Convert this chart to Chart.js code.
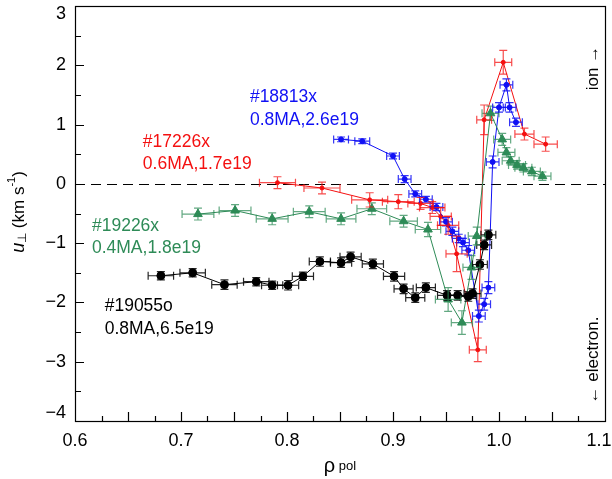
<!DOCTYPE html>
<html lang="en">
<head>
    <meta charset="UTF-8">
    <title>Perpendicular velocity profiles</title>
    <style>
        body { margin: 0; background: #fff; }
        canvas { display: block; }
    </style>
</head>
<body>
    <canvas id="profileChart" width="612" height="479"></canvas>

    <script src="https://cdn.jsdelivr.net/npm/chart.js"></script>
    <script>
        // axis ranges and tick labels
        const rhoTicks = [0.6, 0.7, 0.8, 0.9, 1.0, 1.1];
        const uTicks = [-4, -3, -2, -1, 0, 1, 2, 3];

        // #19055o  0.8MA, 6.5e19
        const rho19055 = [0.681, 0.711, 0.741, 0.771, 0.786, 0.801, 0.815, 0.831, 0.851, 0.860, 0.881,
                          0.901, 0.910, 0.921, 0.931, 0.951, 0.961, 0.971, 0.975, 0.982, 0.986, 0.990];
        const u19055 = [-1.55, -1.50, -1.70, -1.65, -1.71, -1.71, -1.56, -1.31, -1.33, -1.23, -1.35,
                        -1.56, -1.77, -1.92, -1.75, -1.88, -1.88, -1.90, -1.85, -1.36, -1.03, -0.86];
        const rhoErr19055 = [0.012, 0.012, 0.012, 0.012, 0.010, 0.010, 0.010, 0.010, 0.010, 0.010, 0.010,
                             0.010, 0.009, 0.009, 0.009, 0.009, 0.008, 0.008, 0.008, 0.007, 0.007, 0.007];
        const uErr19055 = [0.07, 0.07, 0.08, 0.07, 0.07, 0.08, 0.07, 0.08, 0.08, 0.08, 0.08,
                           0.08, 0.08, 0.08, 0.08, 0.08, 0.08, 0.08, 0.08, 0.08, 0.08, 0.08];

        // #17226x  0.6MA, 1.7e19
        const rho17226 = [0.791, 0.833, 0.878, 0.905, 0.926, 0.937, 0.945, 0.952, 0.960, 0.980, 0.986, 1.004, 1.024, 1.044];
        const u17226 = [0.02, -0.07, -0.27, -0.30, -0.33, -0.40, -0.55, -0.70, -1.18, -2.80, 1.08, 2.05, 0.84, 0.67];
        const rhoErr17226 = [0.017, 0.017, 0.017, 0.015, 0.012, 0.012, 0.010, 0.010, 0.010, 0.008, 0.007, 0.008, 0.009, 0.011];
        const uErr17226 = [0.10, 0.10, 0.12, 0.12, 0.10, 0.10, 0.15, 0.15, 0.30, 0.20, 0.25, 0.20, 0.10, 0.12];

        // #18813x  0.8MA, 2.6e19
        const rho18813 = [0.851, 0.871, 0.900, 0.911, 0.921, 0.931, 0.941, 0.950, 0.956, 0.962, 0.966, 0.971,
                          0.981, 0.986, 0.990, 0.994, 1.000, 1.007, 1.010, 1.016];
        const u18813 = [0.75, 0.72, 0.47, 0.08, -0.17, -0.26, -0.39, -0.64, -0.80, -0.92, -0.99, -1.12,
                        -2.23, -2.03, -1.75, 0.37, 1.29, 1.67, 1.29, 1.04];
        const rhoErr18813 = [0.007, 0.007, 0.006, 0.006, 0.006, 0.006, 0.006, 0.006, 0.006, 0.006, 0.006, 0.006,
                             0.006, 0.006, 0.006, 0.006, 0.006, 0.006, 0.006, 0.006];
        const uErr18813 = [0.04, 0.04, 0.05, 0.06, 0.05, 0.05, 0.06, 0.07, 0.07, 0.07, 0.07, 0.08,
                           0.10, 0.10, 0.10, 0.10, 0.08, 0.10, 0.08, 0.07];

        // #19226x  0.4MA, 1.8e19
        const rho19226 = [0.716, 0.751, 0.786, 0.821, 0.851, 0.880, 0.910, 0.933, 0.952, 0.965,
                          0.974, 0.979, 0.992, 1.003, 1.007, 1.011, 1.017, 1.023, 1.031, 1.041];
        const u19226 = [-0.51, -0.45, -0.59, -0.47, -0.59, -0.42, -0.63, -0.77, -1.95, -2.34,
                        -1.41, -0.88, 1.19, 0.75, 0.53, 0.39, 0.32, 0.27, 0.21, 0.13];
        const rhoErr19226 = [0.015, 0.015, 0.015, 0.015, 0.014, 0.014, 0.013, 0.012, 0.012, 0.010,
                             0.008, 0.008, 0.008, 0.008, 0.008, 0.008, 0.008, 0.008, 0.008, 0.008];
        const uErr19226 = [0.10, 0.10, 0.10, 0.10, 0.10, 0.10, 0.10, 0.12, 0.20, 0.20,
                           0.20, 0.15, 0.12, 0.10, 0.08, 0.07, 0.07, 0.07, 0.07, 0.07];

        const FONT = "'Liberation Sans', Arial, Helvetica, sans-serif";

        function points(rho, u, rhoErr, uErr) {
            return rho.map((r, i) => ({ x: r, y: u[i], xErr: rhoErr[i], yErr: uErr[i] }));
        }

        function series(label, rho, u, rhoErr, uErr, color, barColor, style, radius) {
            return {
                label: label,
                data: points(rho, u, rhoErr, uErr),
                showLine: true,
                borderColor: color,
                backgroundColor: color,
                borderWidth: 1,
                pointStyle: style,
                pointRadius: radius,
                pointBorderWidth: 1,
                pointBorderColor: color,
                pointBackgroundColor: color,
                barColor: barColor
            };
        }

        // horizontal and vertical error bars with caps
        const errorBars = {
            id: 'errorBars',
            afterDatasetsDraw(chart) {
                const { ctx, scales: { x, y } } = chart;
                chart.data.datasets.forEach(ds => {
                    ctx.save();
                    ctx.strokeStyle = ds.barColor;
                    ctx.lineWidth = 1.2;
                    ds.data.forEach(p => {
                        const px = x.getPixelForValue(p.x);
                        const py = y.getPixelForValue(p.y);
                        const xl = x.getPixelForValue(p.x - p.xErr);
                        const xr = x.getPixelForValue(p.x + p.xErr);
                        const yt = y.getPixelForValue(p.y + p.yErr);
                        const yb = y.getPixelForValue(p.y - p.yErr);
                        ctx.beginPath();
                        ctx.moveTo(xl, py); ctx.lineTo(xr, py);
                        ctx.moveTo(xl, py - 4); ctx.lineTo(xl, py + 4);
                        ctx.moveTo(xr, py - 4); ctx.lineTo(xr, py + 4);
                        ctx.moveTo(px, yt); ctx.lineTo(px, yb);
                        ctx.moveTo(px - 4, yt); ctx.lineTo(px + 4, yt);
                        ctx.moveTo(px - 4, yb); ctx.lineTo(px + 4, yb);
                        ctx.stroke();
                    });
                    ctx.restore();
                });
            }
        };

        // frame, inward ticks, tick labels, zero line and all the text
        const decorations = {
            id: 'decorations',
            beforeDatasetsDraw(chart) {
                const { ctx, chartArea: a, scales: { y } } = chart;
                const y0 = Math.round(y.getPixelForValue(0)) + 0.5;
                ctx.save();
                ctx.strokeStyle = '#000';
                ctx.lineWidth = 1.2;
                ctx.setLineDash([10, 6]);
                ctx.beginPath();
                ctx.moveTo(a.left, y0);
                ctx.lineTo(a.right, y0);
                ctx.stroke();
                ctx.restore();
            },
            afterDraw(chart) {
                const { ctx, chartArea: a, scales: { x, y } } = chart;
                ctx.save();
                ctx.strokeStyle = '#000';
                ctx.lineWidth = 1.2;
                ctx.strokeRect(a.left + 0.5, a.top + 0.5, a.right - a.left, a.bottom - a.top);

                ctx.beginPath();
                for (let i = 1; i < 20; i++) {
                    const px = Math.round(x.getPixelForValue(0.6 + i * 0.025)) + 0.5;
                    const len = i % 2 === 0 ? 9 : 5;
                    ctx.moveTo(px, a.bottom);
                    ctx.lineTo(px, a.bottom - len);
                }
                for (let i = 1; i < 14; i++) {
                    const py = Math.round(y.getPixelForValue(-4 + i * 0.5)) + 0.5;
                    const len = i % 2 === 0 ? 9 : 6;
                    ctx.moveTo(a.left, py);
                    ctx.lineTo(a.left + len, py);
                }
                ctx.stroke();

                // tick labels, the end ones kept inside the canvas
                ctx.fillStyle = '#000';
                ctx.font = '18px ' + FONT;
                ctx.textBaseline = 'middle';
                ctx.textAlign = 'right';
                uTicks.forEach(v => {
                    const py = Math.min(Math.max(y.getPixelForValue(v), a.top + 8), a.bottom - 8);
                    ctx.fillText(v < 0 ? '\u2212' + Math.abs(v) : String(v), a.left - 9, py);
                });
                ctx.textAlign = 'center';
                rhoTicks.forEach(v => {
                    const px = Math.min(x.getPixelForValue(v), a.right - 6);
                    ctx.fillText(v.toFixed(1), px, a.bottom + 20);
                });

                // shot labels
                const labels = [
                    ['#18813x', 0.765, 1.46, '#1010f4'],
                    ['0.8MA,2.6e19', 0.765, 1.07, '#1010f4'],
                    ['#17226x', 0.664, 0.70, '#f41010'],
                    ['0.6MA,1.7e19', 0.664, 0.33, '#f41010'],
                    ['#19226x', 0.616, -0.72, '#2e8b57'],
                    ['0.4MA,1.8e19', 0.616, -1.08, '#2e8b57'],
                    ['#19055o', 0.628, -2.07, '#000'],
                    ['0.8MA,6.5e19', 0.628, -2.45, '#000']
                ];
                ctx.font = '17.5px ' + FONT;
                ctx.textAlign = 'left';
                labels.forEach(([t, r, u, c]) => {
                    ctx.fillStyle = c;
                    ctx.fillText(t, x.getPixelForValue(r), y.getPixelForValue(u));
                });

                // direction hints on the right
                ctx.fillStyle = '#000';
                ctx.font = '17px ' + FONT;
                ctx.textAlign = 'center';
                ctx.save();
                ctx.translate(a.right - 12, a.top + 62);
                ctx.rotate(-Math.PI / 2);
                ctx.fillText('ion \u2192', 0, 0);
                ctx.restore();
                ctx.save();
                ctx.translate(a.right - 12, a.top + 354);
                ctx.rotate(-Math.PI / 2);
                ctx.fillText('\u2190 electron.', 0, 0);
                ctx.restore();

                // y title: u_perp (km s^-1)
                const parts = [
                    ['u', 'italic 18px ' + FONT, 0],
                    ['\u22a5', '12px ' + FONT, 4],
                    [' (km s', '17px ' + FONT, 0],
                    ['-1', '11px ' + FONT, -7],
                    [')', '17px ' + FONT, 0]
                ];
                let total = 0;
                parts.forEach(([t, f]) => { ctx.font = f; total += ctx.measureText(t).width; });
                ctx.save();
                ctx.translate(19, 212);
                ctx.rotate(-Math.PI / 2);
                ctx.textAlign = 'left';
                let cx = -total / 2;
                parts.forEach(([t, f, dy]) => {
                    ctx.font = f;
                    ctx.fillText(t, cx, dy);
                    cx += ctx.measureText(t).width;
                });
                ctx.restore();

                // x title: rho pol
                ctx.textAlign = 'left';
                ctx.textBaseline = 'alphabetic';
                ctx.font = '20px ' + FONT;
                const rw = ctx.measureText('\u03c1').width;
                ctx.font = '13px ' + FONT;
                const pw = ctx.measureText(' pol').width;
                const sx = (a.left + a.right) / 2 - (rw + pw) / 2;
                ctx.font = '20px ' + FONT;
                ctx.fillText('\u03c1', sx, 472);
                ctx.font = '13px ' + FONT;
                ctx.fillText(' pol', sx + rw, 470);
                ctx.restore();
            }
        };

        const ctx = document.getElementById('profileChart').getContext('2d');
        new Chart(ctx, {
            type: 'scatter',
            data: {
                datasets: [
                    series('#19055o', rho19055, u19055, rhoErr19055, uErr19055, '#000', 'rgba(0,0,0,0.85)', 'circle', 4),
                    series('#19226x', rho19226, u19226, rhoErr19226, uErr19226, '#2e8b57', 'rgba(46,139,87,0.75)', 'triangle', 5),
                    series('#18813x', rho18813, u18813, rhoErr18813, uErr18813, '#1010f4', 'rgba(16,16,244,0.85)', 'circle', 2.5),
                    series('#17226x', rho17226, u17226, rhoErr17226, uErr17226, '#f41010', 'rgba(244,16,16,0.75)', 'circle', 2)
                ]
            },
            options: {
                responsive: false,
                animation: false,
                layout: { padding: { top: 4, right: 7, left: 0, bottom: 0 } },
                plugins: { legend: { display: false }, tooltip: { enabled: false } },
                scales: {
                    x: {
                        type: 'linear',
                        min: rhoTicks[0],
                        max: rhoTicks[rhoTicks.length - 1],
                        afterFit: s => { s.height = 58; },
                        grid: { display: false, drawTicks: false },
                        border: { display: false },
                        ticks: { display: false }
                    },
                    y: {
                        type: 'linear',
                        min: uTicks[0],
                        max: uTicks[uTicks.length - 1],
                        afterFit: s => { s.width = 75; },
                        grid: { display: false, drawTicks: false },
                        border: { display: false },
                        ticks: { display: false }
                    }
                }
            },
            plugins: [decorations, errorBars]
        });
    </script>
</body>
</html>
